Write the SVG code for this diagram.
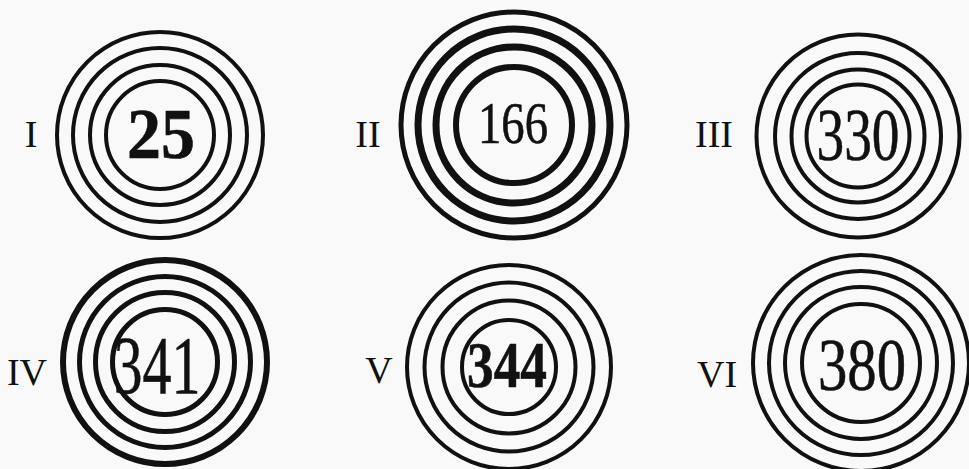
<svg xmlns="http://www.w3.org/2000/svg" width="969" height="469" viewBox="0 0 969 469">
<style>
.r{fill:none;stroke:#111}
.num{font-family:"Liberation Serif","DejaVu Serif",serif;fill:#111;stroke:#111;stroke-width:0.6;text-anchor:middle}
.lab{font-family:"Liberation Serif","DejaVu Serif",serif;fill:#111;font-size:38px;text-anchor:middle}
</style>
<rect width="969" height="469" fill="#f9f9f9"/>
<g id="target-I">
<g class="r" stroke-width="4"><circle cx="160" cy="135" r="103"/><circle cx="160" cy="135" r="87"/><circle cx="160" cy="135" r="70"/><circle cx="160" cy="135" r="54"/></g>
<text class="num" x="161" y="158" font-size="72" font-weight="bold" stroke-width="0" textLength="68" lengthAdjust="spacingAndGlyphs">25</text>
<text class="lab" x="31" y="147">I</text>
</g>
<g id="target-II">
<g class="r" stroke-width="7"><circle cx="514" cy="125" r="113" stroke-width="5"/><circle cx="514" cy="125" r="96"/><circle cx="514" cy="125" r="78"/><circle cx="514" cy="125" r="58" stroke-width="6"/></g>
<text class="num" x="513" y="143" font-size="59" textLength="70" lengthAdjust="spacingAndGlyphs">166</text>
<text class="lab" x="368" y="147">II</text>
</g>
<g id="target-III">
<g class="r" stroke-width="4"><circle cx="858" cy="136" r="101.5"/><circle cx="858" cy="136" r="83"/><circle cx="858" cy="136" r="66.5"/><circle cx="858" cy="136" r="51.5"/></g>
<text class="num" x="858" y="160" font-size="74" textLength="83" lengthAdjust="spacingAndGlyphs">330</text>
<text class="lab" x="714" y="147">III</text>
</g>
<g id="target-IV">
<g class="r" stroke-width="5"><circle cx="165" cy="362" r="102" stroke-width="6"/><circle cx="165" cy="362" r="85.5"/><circle cx="165" cy="362" r="69.5"/><circle cx="165" cy="362" r="52.5"/></g>
<text class="num" x="157" y="393" font-size="82" textLength="87" lengthAdjust="spacingAndGlyphs">341</text>
<text class="lab" x="27" y="385">IV</text>
</g>
<g id="target-V">
<g class="r" stroke-width="4"><circle cx="509" cy="367" r="102"/><circle cx="509" cy="367" r="84.5"/><circle cx="509" cy="367" r="66.5"/><circle cx="509" cy="367" r="47"/></g>
<text class="num" x="507" y="387" font-size="65" font-weight="bold" stroke-width="0" textLength="80" lengthAdjust="spacingAndGlyphs">344</text>
<text class="lab" x="379" y="383">V</text>
</g>
<g id="target-VI">
<g class="r" stroke-width="4"><circle cx="861" cy="363" r="108"/><circle cx="861" cy="363" r="92"/><circle cx="861" cy="363" r="76"/><circle cx="861" cy="363" r="59"/></g>
<text class="num" x="862" y="390" font-size="74" textLength="88" lengthAdjust="spacingAndGlyphs">380</text>
<text class="lab" x="717" y="387">VI</text>
</g>
</svg>
